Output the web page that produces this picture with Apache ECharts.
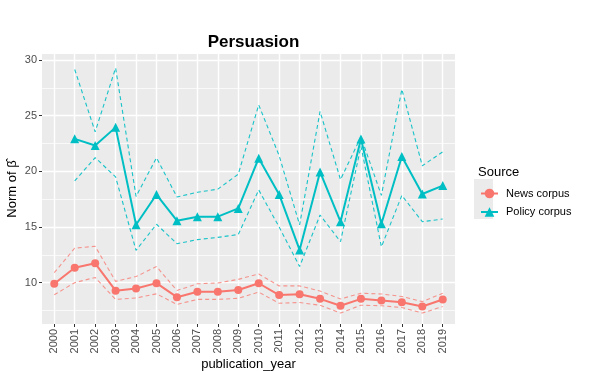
<!DOCTYPE html>
<html>
<head>
<meta charset="utf-8">
<script src="https://cdn.jsdelivr.net/npm/echarts@6/dist/echarts.min.js"></script>
<style>
html,body{margin:0;padding:0;background:#fff;}
#c{width:602px;height:371px;}
</style>
</head>
<body>
<div id="c"></div>
<script>
const years = [2000,2001,2002,2003,2004,2005,2006,2007,2008,2009,2010,2011,2012,2013,2014,2015,2016,2017,2018,2019];
const yTicks = [10,15,20,25,30];
const yMinorTicks = [7.5,12.5,17.5,22.5,27.5];

const newsMean  = [9.9,11.35,11.74,9.28,9.48,9.96,8.70,9.19,9.19,9.35,9.95,8.89,8.97,8.55,7.93,8.55,8.40,8.25,7.86,8.49];
const newsUpper = [10.9,13.1,13.27,10.12,10.55,11.45,9.3,9.9,9.97,10.3,10.78,9.71,9.71,9.25,8.54,9.05,8.99,8.76,8.3,9.05];
const newsLower = [8.92,10.0,10.47,8.5,8.63,9.0,8.05,8.5,8.5,8.6,9.15,8.15,8.22,7.97,7.27,7.98,7.93,7.77,7.27,7.86];

const policyMean  = [null,22.92,22.32,23.95,15.2,17.92,15.57,15.92,15.93,16.67,21.18,17.93,12.94,19.95,15.48,22.9,15.3,21.33,17.97,18.72];
const policyUpper = [null,29.15,23.55,29.28,17.75,21.22,17.7,18.12,18.4,19.75,25.97,21.4,15.2,25.38,19.26,23.1,17.84,27.37,20.5,21.75];
const policyLower = [null,19.15,21.23,19.5,12.9,15.25,13.5,13.87,14.07,14.33,18.33,15.0,11.45,16.08,13.68,22.25,13.22,17.84,15.48,15.72];

const RED = '#F8766D', TEAL = '#00BFC4';
const FONT = '"Liberation Sans", Arial, sans-serif';

function pairs(vals){
  const out = [];
  vals.forEach((v,i)=>{ if(v !== null) out.push([years[i], v]); });
  return out;
}

function dashed(name, vals, color, op){
  return {
    name: name, type: 'line', data: pairs(vals), symbol: 'none',
    lineStyle: {color: color, width: 1.1, type: [4,3], opacity: op},
    itemStyle: {color: color}, silent: true, z: 2, animation: false
  };
}

const chart = echarts.init(document.getElementById('c'), null, {renderer: 'canvas'});
chart.setOption({
  animation: false,
  backgroundColor: '#ffffff',
  textStyle: {fontFamily: FONT},
  title: [
    {text: 'Persuasion', left: 248.5, top: 29, textAlign: 'center',
     textStyle: {fontFamily: FONT, fontSize: 17, fontWeight: 'bold', color: '#000'}},
    {text: 'Source', left: 473, top: 161,
     textStyle: {fontFamily: FONT, fontSize: 13, fontWeight: 'normal', color: '#000'}}
  ],
  graphic: [
    {type: 'rect', left: 474, top: 179, shape: {width: 19, height: 40}, style: {fill: '#EBEBEB'}, z: 0, silent: true}
  ],
  legend: {
    data: ['News corpus', 'Policy corpus'],
    orient: 'vertical', left: 475, top: 183,
    itemWidth: 17, itemHeight: 12, itemGap: 7.5,
    textStyle: {fontFamily: FONT, fontSize: 11, color: '#000', padding: [0,0,0,3]},
    selectedMode: false, z: 5
  },
  grid: {left: 42, top: 54, width: 413, height: 270, show: true, backgroundColor: '#EBEBEB', borderWidth: 0, containLabel: false, outerBoundsMode: 'none'},
  xAxis: {
    type: 'value', min: 1999.4, max: 2019.6,
    name: 'publication_year', nameLocation: 'middle', nameGap: 34, nameMoveOverlap: false,
    nameTextStyle: {fontFamily: FONT, fontSize: 13, color: '#000'},
    axisLine: {show: false},
    axisTick: {show: true, customValues: years, length: 3, lineStyle: {color: '#333333', width: 1}},
    axisLabel: {customValues: years, rotate: 90, margin: 5, fontFamily: FONT, fontSize: 11, color: '#4D4D4D', hideOverlap: false,
                formatter: v => String(v)},
    splitLine: {show: true, lineStyle: {color: '#ffffff', width: 1.4}}
  },
  yAxis: [
    {
      type: 'value', min: 6.29, max: 30.54,
      name: 'Norm of \u03B2\u0302', nameLocation: 'middle', nameGap: 23, nameRotate: 90, nameMoveOverlap: false,
      nameTextStyle: {fontFamily: FONT, fontSize: 13, color: '#000'},
      axisLine: {show: false},
      axisTick: {show: true, customValues: yTicks, length: 3, lineStyle: {color: '#333333', width: 1}},
      axisLabel: {customValues: yTicks, margin: 5, fontFamily: FONT, fontSize: 11, color: '#4D4D4D', formatter: v => String(v)},
      splitLine: {show: true, lineStyle: {color: '#ffffff', width: 1.4}}
    },
    {
      type: 'value', min: 6.29, max: 30.54, position: 'left',
      axisLine: {show: false},
      axisTick: {show: false, customValues: yMinorTicks},
      axisLabel: {show: false, customValues: yMinorTicks},
      splitLine: {show: true, lineStyle: {color: '#ffffff', width: 0.7}}
    }
  ],
  series: [
    dashed('News upper', newsUpper, RED, 0.75),
    dashed('News lower', newsLower, RED, 0.75),
    dashed('Policy upper', policyUpper, TEAL, 0.9),
    dashed('Policy lower', policyLower, TEAL, 0.9),
    {
      name: 'News corpus', type: 'line', data: pairs(newsMean),
      symbol: 'circle', symbolSize: 8,
      lineStyle: {color: RED, width: 2}, itemStyle: {color: RED}, z: 3
    },
    {
      name: 'Policy corpus', type: 'line', data: pairs(policyMean),
      symbol: 'triangle', symbolSize: 9,
      lineStyle: {color: TEAL, width: 2}, itemStyle: {color: TEAL}, z: 3
    }
  ]
});
</script>
</body>
</html>
